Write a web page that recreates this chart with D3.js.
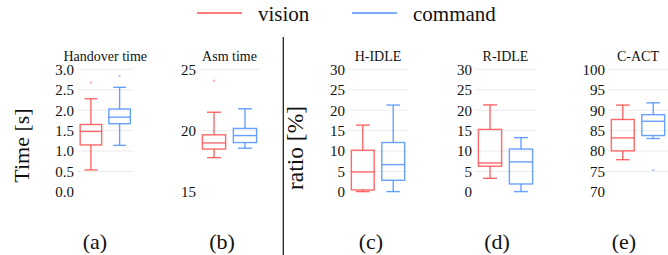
<!DOCTYPE html>
<html>
<head>
<meta charset="utf-8">
<script src="https://cdn.jsdelivr.net/npm/d3@7/dist/d3.min.js"></script>
<style>
  html, body { margin: 0; padding: 0; background: #fff; }
</style>
</head>
<body>
<svg id="chart" width="668" height="255" font-family="Liberation Serif"></svg>
<script>
// data
const groups = ["vision", "command"]
const panelTitles = ["Handover time", "Asm time", "H-IDLE", "R-IDLE", "C-ACT"]
const panelLabels = ["(a)", "(b)", "(c)", "(d)", "(e)"]
const panelTicks = [
    [0, 0.5, 1, 1.5, 2, 2.5, 3],
    [15, 20, 25],
    [0, 5, 10, 15, 20, 25, 30],
    [0, 5, 10, 15, 20, 25, 30],
    [70, 75, 80, 85, 90, 95, 100]
]
// [lower whisker, q1, median, q3, upper whisker]
const visionStats = [
    [0.54, 1.15, 1.48, 1.65, 2.28],
    [17.8, 18.5, 19.0, 19.66, 21.5],
    [0.1, 0.5, 4.9, 10.2, 16.35],
    [3.35, 6.3, 7.1, 15.3, 21.3],
    [77.9, 80.05, 83.24, 87.73, 91.25]
]
const commandStats = [
    [1.14, 1.67, 1.83, 2.03, 2.56],
    [18.57, 19.03, 19.6, 20.18, 21.78],
    [0.1, 2.86, 6.7, 12.1, 21.26],
    [0.1, 1.96, 7.36, 10.5, 13.3],
    [83.07, 83.8, 87.3, 88.9, 91.8]
]
const visionOutliers = [[2.68], [24.07], [], [], []]
const commandOutliers = [[2.84], [], [], [], [75.4]]

const colors = { vision: "#ff4f4f", command: "#4f90ff" }
const serif = "Liberation Serif"

// layout
const panelLeft = [77, 199, 348, 475, 608]
const panelWidth = [56.5, 61, 60, 61, 60]
const labelX = [95, 222, 371, 497, 624]
const plotTop = 69.3, plotBottom = 192

function draw() {
    const svg = d3.select("#chart")
    svg.selectAll("*").remove()

    const addText = (sel) => sel.append("text").attr("font-family", serif).attr("fill", "#111")

    // Legend
    groups.forEach((g, i) => {
        const x0 = [197, 352][i]
        svg.append("line")
            .attr("x1", x0).attr("x2", x0 + 45)
            .attr("y1", 13).attr("y2", 13)
            .attr("stroke", colors[g]).attr("stroke-width", 1.5)
        addText(svg)
            .attr("x", x0 + 61).attr("y", 21)
            .attr("font-size", 21)
            .text(g)
    })

    // Divider between time and ratio panels
    svg.append("line")
        .attr("x1", 283.3).attr("x2", 283.3)
        .attr("y1", 37).attr("y2", 255)
        .attr("stroke", "#222").attr("stroke-width", 1.3)

    // Y axis titles
    addText(svg)
        .attr("transform", "translate(29,145.5) rotate(-90)")
        .attr("text-anchor", "middle")
        .attr("font-size", 22)
        .text("Time [s]")
    addText(svg)
        .attr("transform", "translate(303,148) rotate(-90)")
        .attr("text-anchor", "middle")
        .attr("font-size", 23.5)
        .text("ratio [%]")

    panelTitles.forEach((title, p) => {
        const ticks = panelTicks[p]
        const y = d3.scaleLinear()
            .domain(d3.extent(ticks))
            .range([plotBottom, plotTop])
        const x = d3.scaleBand()
            .domain(groups)
            .range([panelLeft[p], panelLeft[p] + panelWidth[p]])
            .paddingInner(0.25)
            .paddingOuter(0.11)

        const g = svg.append("g")

        // gridlines (bottom one is not drawn in the original)
        g.append("g")
            .selectAll("line")
            .data(ticks.slice(1))
            .join("line")
            .attr("x1", panelLeft[p]).attr("x2", panelLeft[p] + panelWidth[p])
            .attr("y1", d => y(d)).attr("y2", d => y(d))
            .attr("stroke", "#ececec").attr("stroke-width", 1)

        const fmt = p === 0 ? d3.format(".1f") : d3.format("d")
        const axis = d3.axisLeft(y)
            .tickValues(ticks)
            .tickFormat(fmt)
            .tickSize(0)
            .tickPadding(3)
        const ax = g.append("g")
            .attr("transform", `translate(${panelLeft[p]},0)`)
            .call(axis)
        ax.attr("font-family", serif).attr("font-size", 15)
        ax.select(".domain").remove()
        ax.selectAll("text")
            .attr("fill", "#111")
            .attr("font-family", serif)

        // title
        addText(g)
            .attr("x", panelLeft[p] + panelWidth[p] / 2)
            .attr("y", 61)
            .attr("text-anchor", "middle")
            .attr("font-size", 14)
            .text(title)

        // panel label
        addText(g)
            .attr("x", labelX[p])
            .attr("y", 249)
            .attr("text-anchor", "middle")
            .attr("font-size", 22)
            .text(panelLabels[p])

        const series = [
            { key: "vision", stats: visionStats[p], out: visionOutliers[p] },
            { key: "command", stats: commandStats[p], out: commandOutliers[p] }
        ]

        series.forEach(s => {
            const [lo, q1, med, q3, hi] = s.stats
            const bx = x(s.key), bw = x.bandwidth(), cx = bx + bw / 2
            const cap = bw * 0.3
            const c = colors[s.key]
            const box = g.append("g")
                .attr("stroke", c)
                .attr("stroke-width", 1.4)
                .attr("stroke-opacity", 0.85)
                .attr("fill", "none")

            box.append("line")
                .attr("x1", cx).attr("x2", cx)
                .attr("y1", y(hi)).attr("y2", y(q3))
            box.append("line")
                .attr("x1", cx).attr("x2", cx)
                .attr("y1", y(q1)).attr("y2", y(lo))
            box.selectAll(".cap")
                .data([lo, hi])
                .join("line")
                .attr("x1", cx - cap).attr("x2", cx + cap)
                .attr("y1", d => y(d)).attr("y2", d => y(d))
            box.append("rect")
                .attr("x", bx).attr("width", bw)
                .attr("y", y(q3)).attr("height", y(q1) - y(q3))
            box.append("line")
                .attr("x1", bx).attr("x2", bx + bw)
                .attr("y1", y(med)).attr("y2", y(med))

            g.selectAll(null)
                .data(s.out)
                .join("circle")
                .attr("cx", cx)
                .attr("cy", d => y(d))
                .attr("r", 1.2)
                .attr("fill", c)
                .attr("fill-opacity", 0.45)
        })
    })
}

draw()
if (document.fonts) {
    document.fonts.load('20px "Liberation Serif"').then(draw)
}
</script>
</body>
</html>
